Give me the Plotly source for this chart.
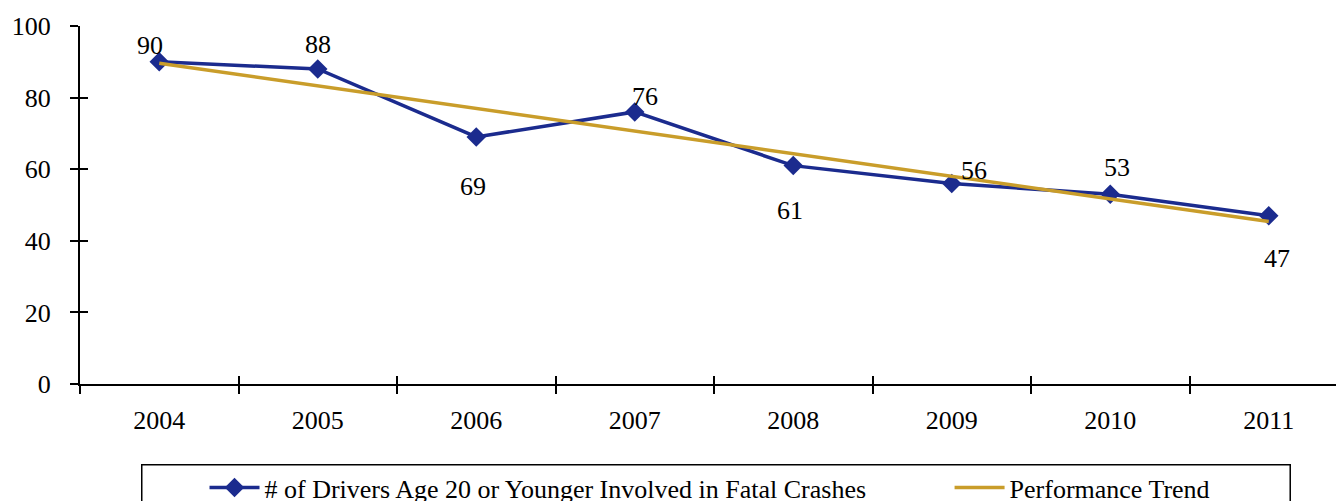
import plotly.graph_objects as go

# data
years = ["2004", "2005", "2006", "2007", "2008", "2009", "2010", "2011"]
drivers = [90, 88, 69, 76, 61, 56, 53, 47]
trend_years = ["2004", "2011"]
trend_values = [89.6, 45.4]
y_ticks = [0, 20, 40, 60, 80, 100]

# label offsets in px (dx, dy) - style only
label_offsets = [(-9, 16), (0, 24), (-3, -50), (10, 15), (-3, -45), (22, 13), (7, 27), (8, -43)]

FONT = "Liberation Serif"
BLUE = "#1b2b8e"
GOLD = "#c99d2a"
W, H = 1344, 501
OFF = 8  # page body margin offsets the figure
L, T, R = 67, 17, 4
B = H - T - 359
PW = W - L - R
PH = H - T - B


def page_x(px):
    # page pixel -> paper x
    return (px - OFF - L) / PW


def page_y(py):
    # page pixel -> paper y
    return (H - B - (py - OFF)) / PH


fig = go.Figure()

fig.add_trace(go.Scatter(
    x=years, y=drivers, mode="lines+markers",
    name="# of Drivers Age 20 or Younger Involved in Fatal Crashes",
    line=dict(color=BLUE, width=3.5),
    marker=dict(symbol="diamond", size=15, color=BLUE),
    legend="legend",
))
fig.add_trace(go.Scatter(
    x=trend_years, y=trend_values, mode="lines",
    name="Performance Trend",
    line=dict(color=GOLD, width=3.5),
    legend="legend2",
))

# data labels
for i, (val, (dx, dy)) in enumerate(zip(drivers, label_offsets)):
    fig.add_annotation(x=i, y=val, xref="x", yref="y", text=str(val), showarrow=False,
                       xshift=dx, yshift=dy, font=dict(size=26, color="black", family=FONT))

n = len(years)
bounds = [i - 0.5 for i in range(n + 1)]
leg_y = 1 - (464 - OFF) / H

fig.update_layout(
    width=W, height=H,
    margin=dict(l=L, r=R, t=T, b=B),
    paper_bgcolor="white", plot_bgcolor="white",
    font=dict(family=FONT, size=26, color="black"),
    showlegend=True,
    legend=dict(orientation="h", x=page_x(200), xanchor="left",
                yref="container", y=leg_y, yanchor="top",
                font=dict(size=26, family=FONT), bgcolor="rgba(0,0,0,0)", itemwidth=50),
    legend2=dict(orientation="h", x=page_x(948), xanchor="left",
                 yref="container", y=leg_y, yanchor="top",
                 font=dict(size=26, family=FONT), bgcolor="rgba(0,0,0,0)", itemwidth=50),
    xaxis=dict(type="category", range=[-0.5, n - 0.5], tickson="boundaries",
               ticks="outside", ticklen=8, tickwidth=2, tickcolor="black",
               showline=True, linecolor="black", linewidth=2, showgrid=False,
               ticklabelstandoff=12, zeroline=False),
    yaxis=dict(range=[0, 100], tickvals=y_ticks, ticks="outside", ticklen=8,
               tickwidth=2, tickcolor="black", showline=True, linecolor="black",
               linewidth=2, showgrid=False, zeroline=False, ticklabelstandoff=14),
    xaxis2=dict(overlaying="x", range=[-0.5, n - 0.5], tickvals=bounds, ticks="inside",
                ticklen=8, tickwidth=2, tickcolor="black", showticklabels=False,
                showgrid=False, zeroline=False, side="bottom", anchor="y"),
    yaxis2=dict(overlaying="y", range=[0, 100], tickvals=y_ticks, ticks="inside",
                ticklen=8, tickwidth=2, tickcolor="black", showticklabels=False,
                showgrid=False, zeroline=False, side="left", anchor="x"),
)

# empty trace so the overlay axes get drawn
fig.add_trace(go.Scatter(x=[], y=[], xaxis="x2", yaxis="y2", showlegend=False))

# legend frame
fig.add_shape(type="rect", xref="paper", yref="paper",
              x0=page_x(137), x1=page_x(1290),
              y0=page_y(540), y1=page_y(465),
              line=dict(color="black", width=1.5), fillcolor="rgba(0,0,0,0)")

fig.write_html("out.html")
